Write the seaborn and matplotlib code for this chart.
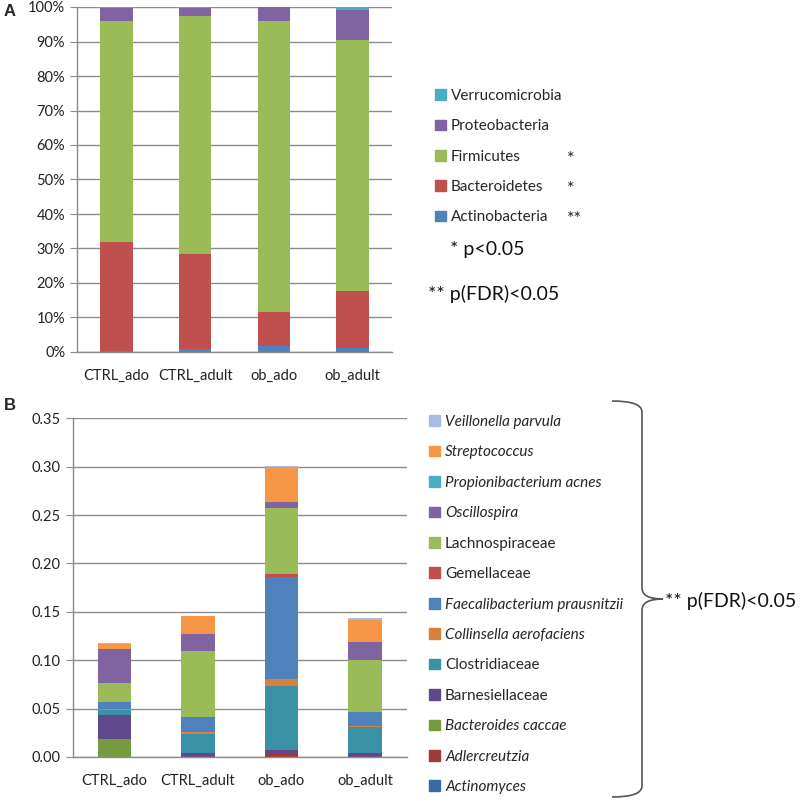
import numpy as np
import pandas as pd
import seaborn as sns
import matplotlib.pyplot as plt
from matplotlib.patches import Patch
from matplotlib.path import Path
from matplotlib.patches import PathPatch

groups = ["CTRL_ado", "CTRL_adult", "ob_ado", "ob_adult"]

# panel A: relative abundance of phyla (%)
phyla = ["Actinobacteria", "Bacteroidetes", "Firmicutes", "Proteobacteria", "Verrucomicrobia"]
phyla_stars = ["**", "*", "*", "", ""]
actinobacteria = [0.2, 1.0, 1.8, 1.2]
bacteroidetes = [31.6, 27.5, 9.7, 16.5]
firmicutes = [64.2, 69.0, 84.5, 72.6]
proteobacteria = [3.6, 2.1, 3.9, 8.9]
verrucomicrobia = [0.4, 0.4, 0.1, 0.8]
phyla_colors = ["#4F81BD", "#C0504D", "#9BBB59", "#8064A2", "#4BACC6"]

# panel B: taxa
taxa = ["Actinomyces", "Adlercreutzia", "Bacteroides caccae", "Barnesiellaceae",
        "Clostridiaceae", "Collinsella aerofaciens", "Faecalibacterium prausnitzii",
        "Gemellaceae", "Lachnospiraceae", "Oscillospira", "Propionibacterium acnes",
        "Streptococcus", "Veillonella parvula"]
taxa_italic = [True, True, True, False, False, True, True, False, False, True, True, True, True]
actinomyces = [0.0, 0.0, 0.0, 0.0]
adlercreutzia = [0.0, 0.0, 0.003, 0.0]
bacteroides_caccae = [0.019, 0.0, 0.0, 0.0]
barnesiellaceae = [0.024, 0.0045, 0.004, 0.004]
clostridiaceae = [0.006, 0.0195, 0.066, 0.027]
collinsella = [0.001, 0.002, 0.008, 0.001]
faecalibacterium = [0.007, 0.015, 0.1045, 0.0146]
gemellaceae = [0.0, 0.0, 0.0035, 0.0]
lachnospiraceae = [0.019, 0.069, 0.068, 0.054]
oscillospira = [0.036, 0.017, 0.006, 0.018]
propionibacterium = [0.0, 0.0, 0.001, 0.0]
streptococcus = [0.005, 0.0185, 0.036, 0.0228]
veillonella = [0.001, 0.0005, 0.001, 0.0024]
taxa_colors = ["#3A6AA6", "#9E3A38", "#789A3E", "#60498A", "#3A91A6", "#D9803A",
               "#4F81BD", "#C0504D", "#9BBB59", "#8064A2", "#4BACC6", "#F79646", "#A9BCE0"]

sns.set_style("white")
plt.rcParams["font.family"] = ["Lato", "DejaVu Sans"]

fig = plt.figure(figsize=(8, 8.01), dpi=100)
axA = fig.add_axes([77 / 800, 1 - 352 / 801, 315 / 800, 345 / 801])
axB = fig.add_axes([72.7 / 800, 1 - 757 / 801, 334 / 800, 338.7 / 801])

grid_c = "#8C8C8C"


def stacked(ax, layers, colors, width):
    cum = np.cumsum(np.array(layers), axis=0)
    # draw from the top layer down so each lower layer covers the one above
    for i in reversed(range(len(layers))):
        df = pd.DataFrame({"group": groups, "val": cum[i]})
        sns.barplot(data=df, x="group", y="val", color=colors[i], saturation=1,
                    width=width, linewidth=0, ax=ax)


def style(ax):
    ax.set_xlim(-0.5, 3.5)
    ax.set_xlabel("")
    ax.set_ylabel("")
    ax.set_axisbelow(True)
    ax.yaxis.grid(True, color=grid_c, lw=1)
    ax.xaxis.grid(False)
    for s in ["top", "right"]:
        ax.spines[s].set_visible(False)
    for s in ["left", "bottom"]:
        ax.spines[s].set_color(grid_c)
        ax.spines[s].set_linewidth(1)
    ax.set_xticks(np.arange(-0.5, 4, 1), minor=True)
    ax.tick_params(axis="x", which="major", length=0, pad=12, labelsize=10.5, colors="#222222")
    ax.tick_params(axis="x", which="minor", length=6, color=grid_c, direction="out")
    ax.tick_params(axis="y", length=5, color=grid_c, direction="out", labelsize=10.5,
                   colors="#222222", left=True)
    ax.tick_params(axis="y", labelcolor="#222222")


stacked(axA, [actinobacteria, bacteroidetes, firmicutes, proteobacteria, verrucomicrobia],
        phyla_colors, 0.41)
style(axA)
axA.set_ylim(0, 100)
axA.set_yticks(np.arange(0, 101, 10))
axA.set_yticklabels([f"{v}%" for v in range(0, 101, 10)])

stacked(axB, [actinomyces, adlercreutzia, bacteroides_caccae, barnesiellaceae, clostridiaceae,
              collinsella, faecalibacterium, gemellaceae, lachnospiraceae, oscillospira,
              propionibacterium, streptococcus, veillonella], taxa_colors, 0.40)
style(axB)
axB.set_ylim(0, 0.35)
axB.set_yticks(np.arange(0, 0.351, 0.05))
axB.set_yticklabels([f"{v:.2f}" for v in np.arange(0, 0.351, 0.05)])

# legends
hA = [Patch(color=c) for c in phyla_colors][::-1]
legA = fig.legend(hA, phyla[::-1], loc="upper left", bbox_to_anchor=(435 / 800, 1 - 89 / 801),
                  frameon=False, fontsize=11, handlelength=0.7, handleheight=0.7,
                  handletextpad=0.35, labelspacing=1.07, borderaxespad=0, borderpad=0)
fig.canvas.draw()
inv = fig.transFigure.inverted()
for t, star in zip(legA.get_texts(), phyla_stars[::-1]):
    if star:
        bb = t.get_window_extent()
        yc = inv.transform(((bb.x0 + bb.x1) / 2, (bb.y0 + bb.y1) / 2))[1]
        fig.text(567 / 800, yc - 2 / 801, star, fontsize=13, va="center", ha="left",
                 color="#222222")

fig.text(450 / 800, 1 - 250 / 801, "* p<0.05", fontsize=14, va="center", color="#111111")
fig.text(428 / 800, 1 - 294 / 801, "** p(FDR)<0.05", fontsize=14, va="center", color="#111111")

hB = [Patch(color=c) for c in taxa_colors][::-1]
legB = fig.legend(hB, taxa[::-1], loc="upper left", bbox_to_anchor=(429 / 800, 1 - 415 / 801),
                  frameon=False, fontsize=11, handlelength=0.7, handleheight=0.7,
                  handletextpad=0.35, labelspacing=1.075, borderaxespad=0, borderpad=0)
for t, it in zip(legB.get_texts(), taxa_italic[::-1]):
    if it:
        t.set_fontstyle("italic")

# brace
over = fig.add_axes([0, 0, 1, 1], facecolor="none")
over.set_xlim(0, 800)
over.set_ylim(801, 0)
over.axis("off")
verts = [(612, 401), (642, 401), (642, 412),
         (642, 588),
         (642, 599), (663, 599),
         (642, 599), (642, 610),
         (642, 786),
         (642, 797), (612, 797)]
codes = [Path.MOVETO, Path.CURVE3, Path.CURVE3,
         Path.LINETO,
         Path.CURVE3, Path.CURVE3,
         Path.CURVE3, Path.CURVE3,
         Path.LINETO,
         Path.CURVE3, Path.CURVE3]
over.add_patch(PathPatch(Path(verts, codes), fill=False, edgecolor="#555555", lw=1.2))
fig.text(665 / 800, 1 - 601 / 801, "** p(FDR)<0.05", fontsize=14, va="center", color="#111111")

fig.text(4 / 800, 1 - 12 / 801, "A", fontsize=12, fontweight="bold", va="center",
         family=["Liberation Sans", "DejaVu Sans"])
fig.text(4 / 800, 1 - 406 / 801, "B", fontsize=12, fontweight="bold", va="center",
         family=["Liberation Sans", "DejaVu Sans"])

fig.savefig("out.png", dpi=100)
